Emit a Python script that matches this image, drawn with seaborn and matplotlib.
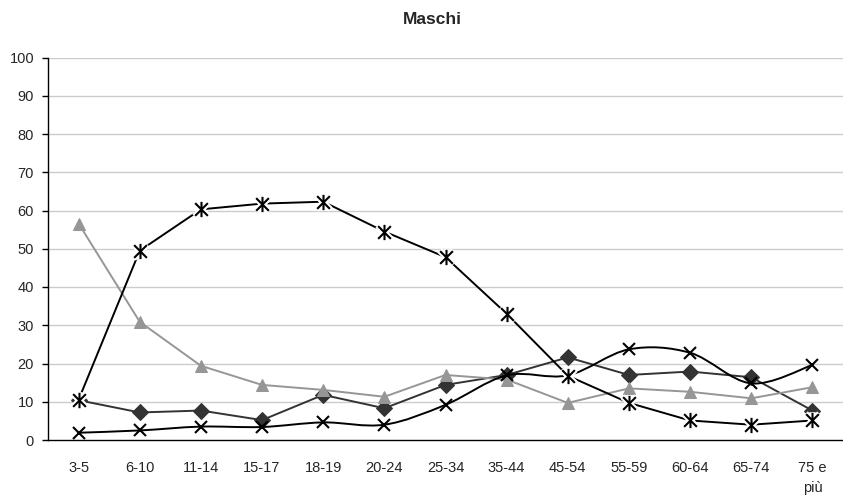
import numpy as np
import pandas as pd
import matplotlib
matplotlib.use("Agg")
import matplotlib.pyplot as plt
import seaborn as sns
from matplotlib.path import Path
from matplotlib.patches import PathPatch

# ---- data ----
categories = ["3-5", "6-10", "11-14", "15-17", "18-19", "20-24", "25-34",
              "35-44", "45-54", "55-59", "60-64", "65-74", "75 e\npiù"]
asterisk_vals = [10.5, 49.5, 60.3, 61.8, 62.3, 54.5, 47.8, 33.0, 16.8, 9.7, 5.1, 4.0, 5.1]
triangle_vals = [56.6, 30.9, 19.4, 14.4, 13.1, 11.3, 17.0, 15.8, 9.7, 13.5, 12.6, 10.9, 13.8]
diamond_vals = [10.4, 7.2, 7.7, 5.2, 11.8, 8.3, 14.4, 17.0, 21.6, 17.0, 17.9, 16.4, 7.7]
cross_vals = [1.9, 2.5, 3.5, 3.4, 4.6, 4.0, 9.2, 16.9, 16.9, 23.7, 22.8, 14.8, 19.6]
y_ticks = list(range(0, 101, 10))
title = "Maschi"

sns.set_style("white")
plt.rcParams["font.family"] = ["Liberation Sans", "DejaVu Sans"]

pos = np.arange(len(categories))
df = pd.DataFrame({"pos": pos, "ast": asterisk_vals, "tri": triangle_vals,
                   "dia": diamond_vals, "crs": cross_vals})

fig = plt.figure(figsize=(8.43, 4.99), dpi=100)
ax = fig.add_axes([48 / 843, 1 - 440 / 499, 795 / 843, (440 - 57.5) / 499])

GRID = "#cccccc"
for yv in y_ticks[1:]:
    ax.axhline(yv, color=GRID, lw=1.0, zorder=0)

LW = 1.4
# diamond series
sns.lineplot(data=df, x="pos", y="dia", ax=ax, color="#333333", lw=LW,
             marker="D", markersize=8, markerfacecolor="#333333",
             markeredgecolor="#333333", zorder=3)
# triangle series
sns.lineplot(data=df, x="pos", y="tri", ax=ax, color="#969696", lw=LW,
             marker="^", markersize=9, markerfacecolor="#969696",
             markeredgecolor="#969696", zorder=3)

# smooth cross series (Bezier smoothing through the data points)
xs = pos.astype(float)
ys = np.array(cross_vals, dtype=float)
verts = [(xs[0], ys[0])]
codes = [Path.MOVETO]
n = len(xs)
for i in range(n - 1):
    p0 = np.array([xs[max(i - 1, 0)], ys[max(i - 1, 0)]])
    p1 = np.array([xs[i], ys[i]])
    p2 = np.array([xs[i + 1], ys[i + 1]])
    p3 = np.array([xs[min(i + 2, n - 1)], ys[min(i + 2, n - 1)]])
    c1 = p1 + (p2 - p0) / 6.0
    c2 = p2 - (p3 - p1) / 6.0
    verts += [tuple(c1), tuple(c2), tuple(p2)]
    codes += [Path.CURVE4] * 3
ax.add_patch(PathPatch(Path(verts, codes), facecolor="none", edgecolor="black",
                       lw=LW, zorder=4))
sns.lineplot(data=df, x="pos", y="crs", ax=ax, color="black", linestyle="",
             marker="x", markersize=9, markeredgewidth=1.5,
             markeredgecolor="black", zorder=5)

# asterisk series
ast_path = Path([(-1, -1), (1, 1), (-1, 1), (1, -1), (0, -1.2), (0, 1.2)],
                [Path.MOVETO, Path.LINETO] * 3)
sns.lineplot(data=df, x="pos", y="ast", ax=ax, color="black", lw=LW, zorder=5)
sns.lineplot(data=df, x="pos", y="ast", ax=ax, color="white", linestyle="",
             marker=ast_path, markersize=12, markerfacecolor="none",
             markeredgecolor="white", markeredgewidth=4.5, zorder=6)
sns.lineplot(data=df, x="pos", y="ast", ax=ax, color="black", linestyle="",
             marker=ast_path, markersize=11, markerfacecolor="none",
             markeredgecolor="black", markeredgewidth=1.5, zorder=7)

# axes styling
ax.set_xlim(-0.5, len(categories) - 0.5)
ax.set_ylim(0, 100)
ax.set_xticks(pos)
ax.set_xticklabels(categories, fontsize=10.5, linespacing=1.6)
ax.set_xticks(np.arange(-0.5, len(categories), 1.0), minor=True)
ax.tick_params(axis="x", which="major", length=0, pad=15)
ax.tick_params(axis="x", which="minor", length=4, width=1, color="black", direction="out")
ax.set_yticks(y_ticks)
ax.set_yticklabels([str(v) for v in y_ticks], fontsize=10.5)
ax.tick_params(axis="y", length=4, width=1, color="black", direction="out", pad=6, left=True)
ax.set_xlabel("")
ax.set_ylabel("")
for side in ["top", "right"]:
    ax.spines[side].set_visible(False)
for side in ["left", "bottom"]:
    ax.spines[side].set_color("black")
    ax.spines[side].set_linewidth(1.0)
ax.grid(False)
if ax.get_legend():
    ax.get_legend().remove()

fig.text(432 / 843, 1 - 19 / 499, title, ha="center", va="center",
         fontsize=12.5, fontweight="bold")

fig.savefig("out.png", dpi=100)
